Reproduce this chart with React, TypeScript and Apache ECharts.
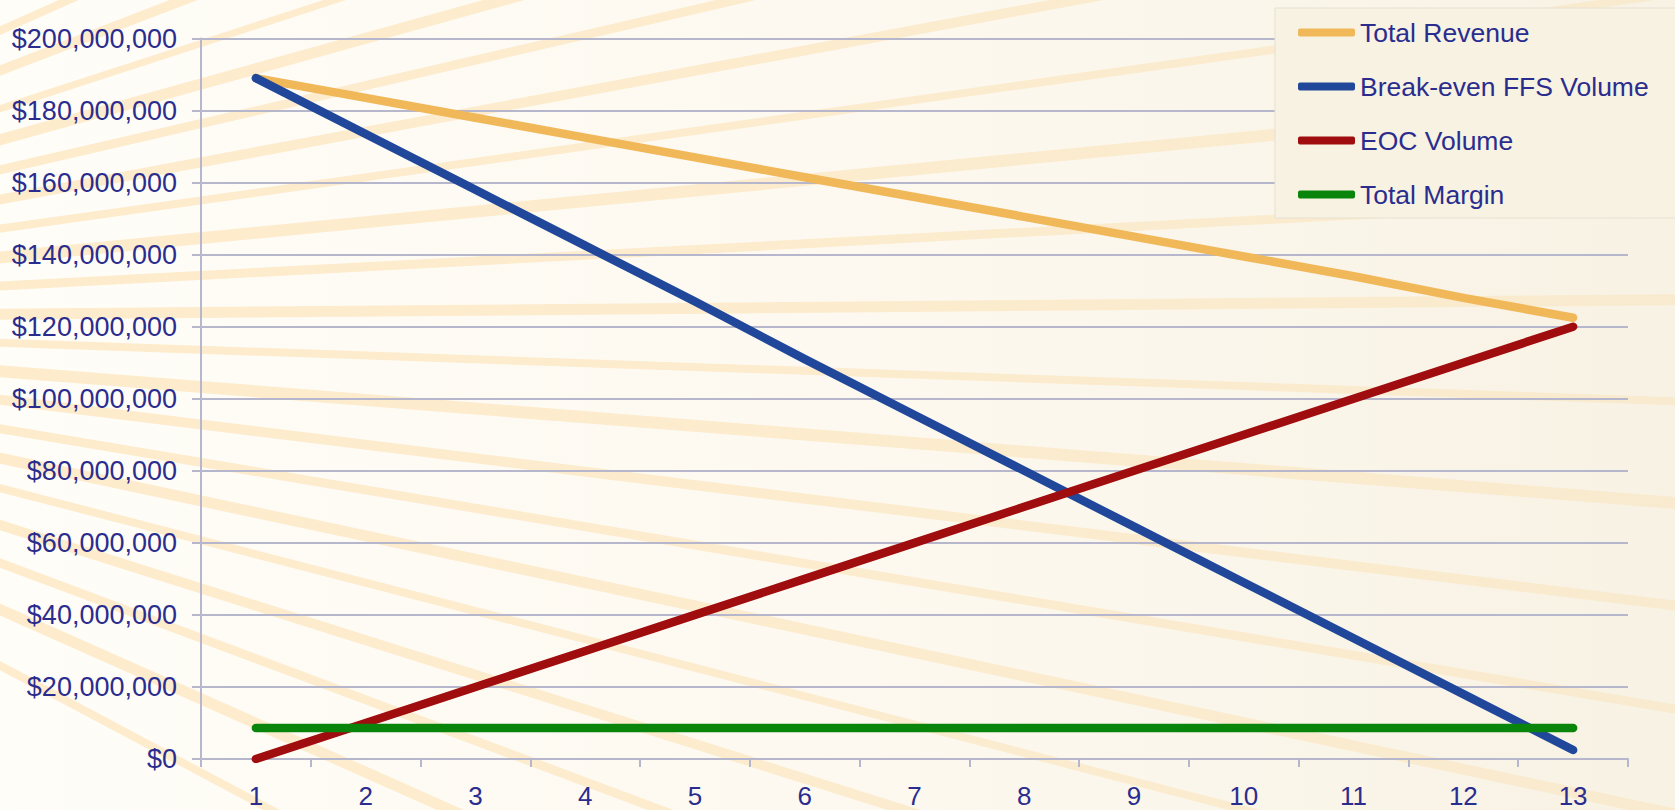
import React, { useEffect, useRef } from "react";
import * as echarts from "echarts";

const categories = ["1", "2", "3", "4", "5", "6", "7", "8", "9", "10", "11", "12", "13"];
const totalRevenue = [189.0, 183.5, 178.0, 172.5, 167.0, 161.5, 156.0, 150.5, 145.0, 139.5, 134.0, 128.0, 122.5];
const breakEvenFFS = [189.0, 173.5, 158.0, 142.5, 127.0, 111.0, 95.5, 80.0, 64.5, 49.0, 33.5, 18.0, 2.5];
const eocVolume = [0, 10, 20, 30, 40, 50, 60, 70, 80, 90, 100, 110, 120];
const totalMargin = [8.6, 8.6, 8.6, 8.6, 8.6, 8.6, 8.6, 8.6, 8.6, 8.6, 8.6, 8.6, 8.6];
const seriesNames = ["Total Revenue", "Break-even FFS Volume", "EOC Volume", "Total Margin"];
const seriesColors = ["#f1b85a", "#20479a", "#a00d0f", "#0a850c"];

// decorative background rays (angle in degrees, stroke width)
const rayAngles = [-24, -21, -18, -15.5, -13, -10.5, -8, -5.5, -3, -0.5, 2, 4.5, 7, 9.5, 12, 14.5, 17.5, 20.5, 24, 28];
const rayWidths = [8, 10, 7, 11, 9, 10, 8, 12, 9, 11, 8, 12, 10, 9, 11, 8, 10, 9, 11, 8];

const TEXT = "#2b2d8e";
const FONT = "'Liberation Sans', Arial, sans-serif";
const GRIDC = "#b6b6cc";

export default function App() {
  const ref = useRef<HTMLDivElement>(null);
  useEffect(() => {
    if (!ref.current) return;
    const chart = echarts.init(ref.current, null, { renderer: "svg" });
    const cx = -650, cy = 320, len = 3000;
    const rays = rayAngles.map((a, i) => {
      const r = (a * Math.PI) / 180;
      return {
        type: "line",
        z: -10,
        silent: true,
        shape: { x1: cx, y1: cy, x2: cx + len * Math.cos(r), y2: cy + len * Math.sin(r) },
        style: {
          lineWidth: rayWidths[i],
          stroke: new echarts.graphic.LinearGradient(0, 0, 1, 0, [
            { offset: 0, color: "rgba(251,210,140,0.45)" },
            { offset: 0.45, color: "rgba(251,210,140,0.36)" },
            { offset: 1, color: "rgba(251,210,140,0.16)" },
          ]),
        },
      };
    });
    const mk = (i: number, data: number[]) => ({
      name: seriesNames[i],
      type: "line",
      data: data.map((v) => v * 1e6),
      symbol: "none",
      smooth: false,
      lineStyle: { width: 8.5, color: seriesColors[i], cap: "round", join: "round" },
      itemStyle: { color: seriesColors[i] },
    });
    chart.setOption({
      animation: false,
      backgroundColor: "transparent",
      grid: { left: 201, right: 47, top: 38.5, bottom: 51, containLabel: false },
      graphic: [
        ...rays,
        {
          type: "rect",
          z: 3,
          silent: true,
          shape: { x: 1275, y: 8, width: 410, height: 210 },
          style: { fill: "#f7f2e2", stroke: "#e6e1d2", lineWidth: 1 },
        },
      ],
      legend: {
        orient: "vertical",
        left: 1298,
        top: 19,
        padding: 0,
        itemWidth: 57,
        itemHeight: 8,
        itemGap: 27,
        icon: "roundRect",
        textStyle: { fontSize: 26.5, color: TEXT, fontFamily: FONT, lineHeight: 26 },
        data: seriesNames,
      },
      xAxis: {
        type: "category",
        data: categories,
        boundaryGap: true,
        axisLine: { lineStyle: { color: GRIDC, width: 2 } },
        axisTick: { show: true, length: 8, lineStyle: { color: GRIDC, width: 2 } },
        axisLabel: { fontSize: 26, color: TEXT, fontFamily: FONT, margin: 24 },
        splitLine: { show: false },
      },
      yAxis: {
        type: "value",
        min: 0,
        max: 200000000,
        interval: 20000000,
        axisLine: { show: true, lineStyle: { color: GRIDC, width: 2 } },
        axisTick: { show: true, length: 9, lineStyle: { color: GRIDC, width: 2 } },
        axisLabel: {
          fontSize: 27,
          color: TEXT,
          fontFamily: FONT,
          margin: 24,
          formatter: (v: number) => "$" + Math.round(v).toLocaleString("en-US"),
        },
        splitLine: { show: true, lineStyle: { color: GRIDC, width: 2 } },
      },
      series: [mk(0, totalRevenue), mk(1, breakEvenFFS), mk(2, eocVolume), mk(3, totalMargin)],
    });
    return () => chart.dispose();
  }, []);
  return (
    <div
      style={{
        position: "fixed",
        left: 0,
        top: 0,
        width: 1675,
        height: 810,
        background: "linear-gradient(to right, #fffdf8 0%, #fdf9f0 50%, #f8f2e4 100%)",
      }}
    >
      <div ref={ref} style={{ width: 1675, height: 810 }} />
    </div>
  );
}
